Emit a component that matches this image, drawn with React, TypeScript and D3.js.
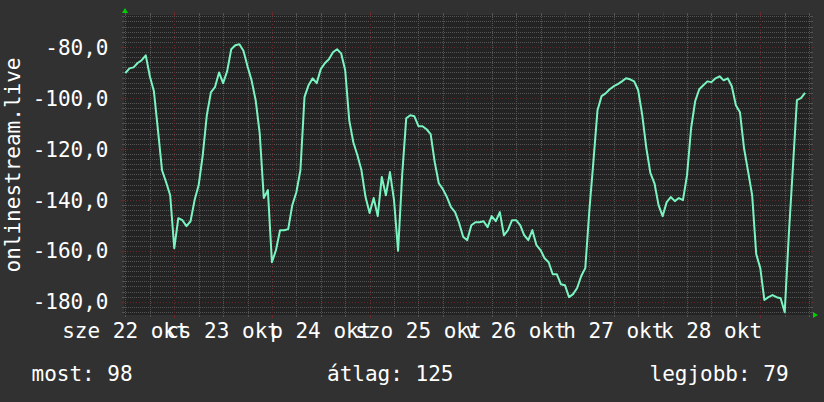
import React from "react";
import * as d3 from "d3";

// hours after 2025-10-22 00:00 of the first sample; one sample per hour
const START_HOUR = 12;
const VALUES: number[] = [
  -90.2, -88.4, -88.0, -86.3, -85.2, -83.3, -91.5, -97.4, -112.7, -128.4,
  -133.1, -138.2, -159.0, -147.2, -148.0, -150.3, -148.4, -140.1, -134.2, -122.5,
  -106.8, -97.8, -95.8, -90.0, -94.2, -89.5, -80.9, -79.3, -78.9, -81.5,
  -87.6, -93.1, -100.9, -113.9, -139.3, -136.2, -164.5, -159.7, -151.9, -151.9,
  -151.5, -142.1, -137.0, -128.4, -99.7, -95.0, -92.3, -94.2, -88.7, -86.4,
  -84.8, -82.1, -80.9, -82.5, -89.1, -108.8, -117.4, -122.5, -128.4, -138.9,
  -145.2, -139.3, -146.4, -131.0, -138.2, -129.1, -140.1, -160.0, -130.3, -108.0,
  -106.8, -107.2, -111.1, -111.1, -112.3, -114.2, -125.2, -133.5, -135.8, -138.9,
  -142.9, -144.8, -149.1, -154.6, -155.8, -150.0, -148.8, -148.8, -148.4, -150.7,
  -146.4, -148.4, -144.8, -153.9, -151.9, -148.0, -148.0, -149.9, -153.9, -155.8,
  -151.9, -157.8, -159.7, -162.9, -164.5, -169.2, -169.2, -173.1, -173.5, -178.2,
  -177.0, -174.6, -169.9, -166.8, -144.1, -124.8, -104.8, -99.3, -98.2, -96.6,
  -95.4, -94.6, -93.5, -92.3, -92.7, -93.5, -97.0, -106.8, -119.7, -129.5,
  -133.5, -142.1, -146.4, -140.9, -138.9, -140.5, -139.3, -140.1, -130.3, -111.9,
  -101.3, -96.6, -95.0, -93.5, -93.8, -92.3, -91.5, -93.1, -92.3, -95.4,
  -102.9, -105.6, -119.7, -128.8, -138.2, -161.3, -166.8, -179.3, -178.2, -177.4,
  -178.2, -178.6, -184.1, -153.9, -127.6, -100.9, -100.1, -98.0,
];

const TIME_DOMAIN = [11.65, 180.46]; // hours
const VALUE_DOMAIN = [-185.2, -67.45];
const Y_TICKS = [-80, -100, -120, -140, -160, -180];
const Y_MINOR_STEP = 2;
const X_MINOR_STEP = 6; // hours
const DAY_LABELS = ["sze 22 okt", "cs 23 okt", "p 24 okt", "szo 25 okt", "v 26 okt", "h 27 okt", "k 28 okt"];
const Y_TITLE = "onlinestream.live";
const LEGEND_LABELS = ["most", "átlag", "legjobb"];
const LEGEND_VALUES = ["98", "125", "79"];

const W = 824;
const H = 402;
const PL = 124, PR = 811, PT = 15, PB = 315;
const FONT = "'DejaVu Sans Mono', monospace";
const FS = 21;

export default function App() {
  const x = d3.scaleLinear().domain(TIME_DOMAIN).range([PL, PR]);
  const y = d3.scaleLinear().domain(VALUE_DOMAIN).range([PB, PT]);

  const line = d3
    .line<number>()
    .x((_, i) => x(START_HOUR + i))
    .y((d) => y(d));

  const minorY = d3
    .range(Math.ceil(VALUE_DOMAIN[0] / Y_MINOR_STEP) * Y_MINOR_STEP, VALUE_DOMAIN[1], Y_MINOR_STEP)
    .filter((v) => Math.abs(v % 20) > 0.01);
  const hoursAll = d3.range(
    Math.ceil(TIME_DOMAIN[0] / X_MINOR_STEP) * X_MINOR_STEP,
    TIME_DOMAIN[1],
    X_MINOR_STEP
  );
  const minorX = hoursAll.filter((h) => h % 24 !== 0);
  const majorX = hoursAll.filter((h) => h % 24 === 0);

  const minorColor = "#545454";
  const majorColor = "#6a2828";
  const legendX = [31.5, 327, 649.5];
  const ry = (v: number) => Math.round(y(v)) + 0.5;
  const rx = (h: number) => Math.round(x(h)) + 0.5;

  return (
    <svg
      width={W}
      height={H}
      style={{ position: "absolute", left: 0, top: 0 }}
      fontFamily={FONT}
      fontSize={FS}
    >
      <rect x={0} y={0} width={W} height={H} fill="#313131" />
      <rect x={PL} y={PT} width={PR - PL} height={PB - PT} fill="#232323" />

      {/* minor horizontal grid */}
      {minorY.map((v) => (
        <g key={"my" + v}>
          <line x1={PL} x2={PR} y1={ry(v)} y2={ry(v)} stroke={minorColor} strokeDasharray="1,1" />
          <line x1={PL - 2} x2={PL} y1={ry(v)} y2={ry(v)} stroke={minorColor} />
          <line x1={PR} x2={PR + 2} y1={ry(v)} y2={ry(v)} stroke={minorColor} />
        </g>
      ))}
      {/* minor vertical grid */}
      {minorX.map((h) => (
        <g key={"mx" + h}>
          <line x1={rx(h)} x2={rx(h)} y1={PT} y2={PB} stroke={minorColor} strokeDasharray="1,1" />
          <line x1={rx(h)} x2={rx(h)} y1={PB} y2={PB + 2} stroke={minorColor} />
          <line x1={rx(h)} x2={rx(h)} y1={PT - 2} y2={PT} stroke={minorColor} />
        </g>
      ))}
      {/* major grid */}
      {Y_TICKS.map((v) => (
        <g key={"My" + v}>
          <line x1={PL} x2={PR} y1={ry(v)} y2={ry(v)} stroke={majorColor} strokeDasharray="1,2" />
          <line x1={PL - 3} x2={PL} y1={ry(v)} y2={ry(v)} stroke={majorColor} />
          <line x1={PR} x2={PR + 3} y1={ry(v)} y2={ry(v)} stroke={majorColor} />
        </g>
      ))}
      {majorX.map((h) => (
        <g key={"Mx" + h}>
          <line x1={rx(h)} x2={rx(h)} y1={PT} y2={PB} stroke={majorColor} strokeDasharray="1,2" />
          <line x1={rx(h)} x2={rx(h)} y1={PB} y2={PB + 3} stroke={majorColor} />
          <line x1={rx(h)} x2={rx(h)} y1={PT - 3} y2={PT} stroke={majorColor} />
        </g>
      ))}

      {/* data line */}
      <path d={line(VALUES) || ""} fill="none" stroke="#7af5c2" strokeWidth={2} strokeLinejoin="round" />

      {/* arrows */}
      <polygon points={`${PL + 1},${PT - 7} ${PL - 2},${PT - 2} ${PL + 4},${PT - 2}`} fill="#00d000" />
      <polygon points={`${PR + 7},${PB} ${PR + 2},${PB - 3} ${PR + 2},${PB + 3}`} fill="#00d000" />

      {/* y tick labels */}
      {Y_TICKS.map((v) => (
        <text key={"yl" + v} x={108.5} y={y(v) + 7.7} textAnchor="end" fill="#ffffff">
          {d3.format(".1f")(v).replace(".", ",").replace("−", "-")}
        </text>
      ))}

      {/* x labels at noon */}
      {DAY_LABELS.map((lab, i) => (
        <text key={"xl" + i} x={x(i * 24 + 12)} y={338} textAnchor="middle" fill="#ffffff">
          {lab}
        </text>
      ))}

      {/* y title */}
      <text
        transform={`translate(20,${(PT + PB) / 2}) rotate(-90)`}
        textAnchor="middle"
        fill="#ffffff"
      >
        {Y_TITLE}
      </text>

      {/* legend */}
      {LEGEND_LABELS.map((lab, i) => (
        <text key={"lg" + i} x={legendX[i]} y={381} fill="#ffffff">
          {`${lab}: ${LEGEND_VALUES[i]}`}
        </text>
      ))}
    </svg>
  );
}
